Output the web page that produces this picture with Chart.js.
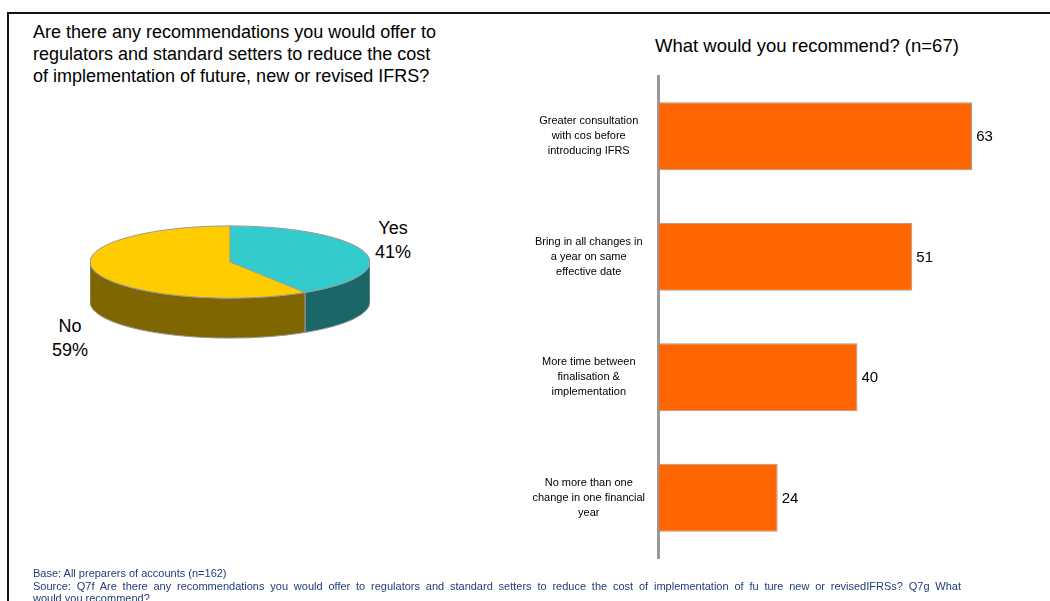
<!DOCTYPE html>
<html>
<head>
<meta charset="utf-8">
<script src="https://cdn.jsdelivr.net/npm/chart.js@4.4.1/dist/chart.umd.min.js"></script>
<style>
  html, body { margin: 0; padding: 0; background: #fff; }
  body { width: 1050px; height: 601px; position: relative; overflow: hidden; font-family: "Liberation Sans", Arial, sans-serif; color: #000; }
  .frame { position: absolute; left: 7px; top: 12px; width: 1200px; height: 800px; border-top: 2px solid #111; border-left: 2px solid #111; }
  .title-left { position: absolute; left: 33px; top: 21px; font-size: 18px; line-height: 22px; }
  .title-right { position: absolute; left: 655px; top: 35px; font-size: 18.5px; line-height: 22px; }
  .pie-label { position: absolute; font-size: 18px; line-height: 24px; text-align: center; width: 60px; }
  .footer { position: absolute; left: 33px; top: 567px; width: 928px; font-size: 11px; line-height: 12.5px; color: #1f3d7a; white-space: nowrap; }
  .footer .just { text-align: justify; text-align-last: justify; white-space: normal; }
  #pieBox { position: absolute; left: 90px; top: 122px; width: 280px; height: 280px; }
  #barBox { position: absolute; left: 500px; top: 60px; width: 540px; height: 510px; }
</style>
</head>
<body>
<div class="frame"></div>
<div class="title-left">Are there any recommendations you would offer to<br>regulators and standard setters to reduce the cost<br>of implementation of future, new or revised IFRS?</div>
<div class="title-right">What would you recommend? (n=67)</div>
<div class="pie-label" id="lab0" style="left:363px; top:216px;"></div>
<div class="pie-label" id="lab1" style="left:40px; top:314px;"></div>
<div id="pieBox"><canvas id="pie"></canvas></div>
<div id="barBox"><canvas id="bars"></canvas></div>
<div class="footer">
  <div>Base: All preparers of accounts (n=162)</div>
  <div class="just">Source: Q7f Are there any recommendations you would offer to regulators and standard setters to reduce the cost of implementation of fu ture new or revisedIFRSs? Q7g What</div>
  <div>would you recommend?</div>
</div>

<script>
// --- datos ---
const pieLabels = ['Yes', 'No'];
const pieShares = [41, 59];

const categories = [
    ['Greater consultation', 'with cos before', 'introducing IFRS'],
    ['Bring in all changes in', 'a year on same', 'effective date'],
    ['More time between', 'finalisation &', 'implementation'],
    ['No more than one', 'change in one financial', 'year']
];
const counts = [63, 51, 40, 24];

const FONT = '"Liberation Sans", Arial, sans-serif';

pieLabels.forEach((l, i) => {
    document.getElementById('lab' + i).innerHTML = l + '<br>' + pieShares[i] + '%';
});

// pie "3D": aplasta la cara superior y dibuja el lateral
const pie3d = {
    id: 'pie3d',
    beforeDatasetsDraw(chart, args, opts) {
        const ctx = chart.ctx;
        const arcs = chart.getDatasetMeta(0).data;
        const cx = arcs[0].x, cy = arcs[0].y, r = arcs[0].outerRadius;
        const d = opts.depth / opts.tilt;
        arcs.forEach((arc, i) => {
            [-2, 0, 2].forEach(n => {
                const a0 = Math.max(arc.startAngle, n * Math.PI);
                const a1 = Math.min(arc.endAngle, (n + 1) * Math.PI);
                if (a1 <= a0) return;
                ctx.save();
                ctx.translate(cx, cy);
                ctx.scale(1, opts.tilt);
                ctx.beginPath();
                ctx.arc(0, 0, r, a0, a1);
                ctx.arc(0, d, r, a1, a0, true);
                ctx.closePath();
                ctx.restore();
                ctx.fillStyle = opts.sideColors[i];
                ctx.fill();
                ctx.strokeStyle = opts.edge;
                ctx.lineWidth = 1;
                ctx.stroke();
            });
        });
        ctx.save();
        ctx.translate(cx, cy);
        ctx.scale(1, opts.tilt);
        ctx.translate(-cx, -cy);
    },
    afterDatasetsDraw(chart, args, opts) {
        const ctx = chart.ctx;
        ctx.restore();
        const arcs = chart.getDatasetMeta(0).data;
        const cx = arcs[0].x, cy = arcs[0].y, r = arcs[0].outerRadius;
        ctx.save();
        ctx.translate(cx, cy);
        ctx.scale(1, opts.tilt);
        ctx.beginPath();
        ctx.moveTo(r, 0);
        ctx.arc(0, 0, r, 0, Math.PI * 2);
        arcs.forEach(arc => {
            ctx.moveTo(0, 0);
            ctx.lineTo(r * Math.cos(arc.startAngle), r * Math.sin(arc.startAngle));
        });
        ctx.restore();
        ctx.strokeStyle = opts.edge;
        ctx.lineWidth = 1;
        ctx.stroke();
    }
};

new Chart(document.getElementById('pie'), {
    type: 'pie',
    data: {
        labels: pieLabels,
        datasets: [{ data: pieShares, backgroundColor: ['#33cccc', '#ffcc00'], borderWidth: 0, clip: false }]
    },
    options: {
        responsive: true, maintainAspectRatio: false, animation: false, events: [],
        layout: { padding: 0 },
        plugins: {
            legend: { display: false }, tooltip: { enabled: false },
            pie3d: { tilt: 0.258, depth: 40, sideColors: ['#1b6666', '#806600'], edge: '#999' }
        }
    },
    plugins: [pie3d]
});

// etiquetas de valor al final de cada barra
const valueLabels = {
    id: 'valueLabels',
    afterDatasetsDraw(chart) {
        const ctx = chart.ctx;
        ctx.save();
        ctx.font = '15px ' + FONT;
        ctx.fillStyle = '#000';
        ctx.textAlign = 'left';
        ctx.textBaseline = 'middle';
        chart.getDatasetMeta(0).data.forEach((bar, i) => ctx.fillText(counts[i], bar.x + 4, bar.y + 1));
        ctx.restore();
    }
};

new Chart(document.getElementById('bars'), {
    type: 'bar',
    data: {
        labels: categories,
        datasets: [{
            data: counts, backgroundColor: '#ff6600', borderColor: '#999', borderWidth: 1,
            borderSkipped: false, categoryPercentage: 1, barPercentage: 0.565
        }]
    },
    options: {
        indexAxis: 'y',
        responsive: true, maintainAspectRatio: false, animation: false, events: [],
        layout: { padding: { top: 16, bottom: 12, left: 0, right: 23 } },
        plugins: { legend: { display: false }, tooltip: { enabled: false } },
        scales: {
            x: { display: false, min: 0, max: 72 },
            y: {
                grid: { display: false, drawTicks: false },
                border: { color: '#999', width: 3 },
                ticks: { color: '#000', font: { family: FONT, size: 11, lineHeight: 1.35 }, crossAlign: 'center', padding: 13 },
                afterFit(s) {
                    s.width = 158;
                    s.paddingTop = 0;
                    s.paddingBottom = 0;
                }
            }
        }
    },
    plugins: [valueLabels]
});
</script>
</body>
</html>
